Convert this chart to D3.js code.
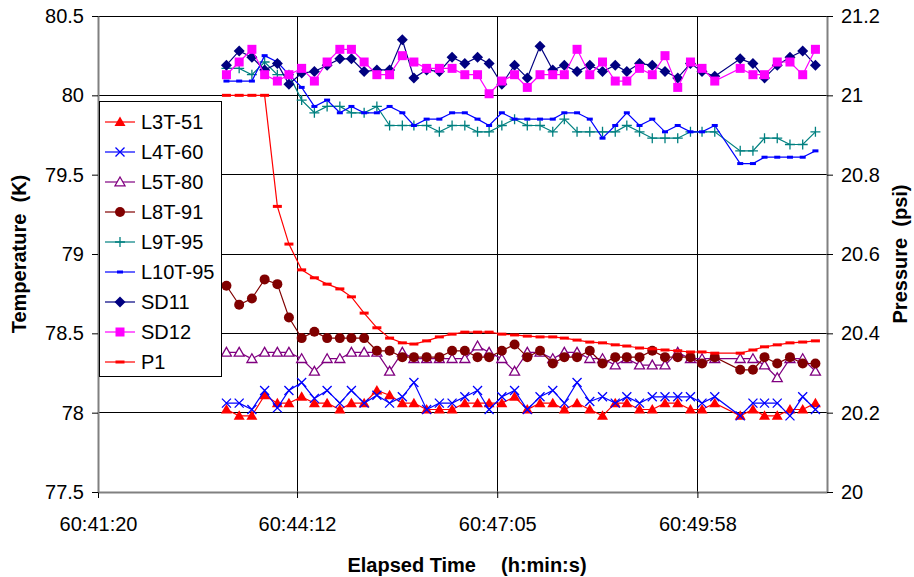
<!DOCTYPE html>
<html>
<head>
<meta charset="utf-8">
<script src="https://cdnjs.cloudflare.com/ajax/libs/d3/7.8.5/d3.min.js"></script>
<style>
  body { margin: 0; background: #fff; }
  text { font-family: Arial, "Liberation Sans", sans-serif; }
</style>
</head>
<body>
<div id="chart"></div>
<script>
// sample times (one sample missing near 60:50:24)
const times = ["60:43:11","60:43:22","60:43:33","60:43:44","60:43:55","60:44:05","60:44:16","60:44:27",
  "60:44:38","60:44:49","60:44:59","60:45:10","60:45:21","60:45:32","60:45:43","60:45:53","60:46:04",
  "60:46:15","60:46:26","60:46:37","60:46:48","60:46:58","60:47:09","60:47:20","60:47:31","60:47:42",
  "60:47:53","60:48:03","60:48:14","60:48:25","60:48:36","60:48:47","60:48:57","60:49:08","60:49:19",
  "60:49:30","60:49:41","60:49:52","60:50:02","60:50:13","60:50:35","60:50:46","60:50:56","60:51:07",
  "60:51:18","60:51:29","60:51:40"];

const xTickLabels = ["60:41:20", "60:44:12", "60:47:05", "60:49:58"];
const tempTicks = [77.5, 78, 78.5, 79, 79.5, 80, 80.5];
const presTicks = [20, 20.2, 20.4, 20.6, 20.8, 21, 21.2];

// temperatures (K)
const L3T51 = [78.02,77.98,77.98,78.11,78.06,78.06,78.10,78.06,78.06,78.02,78.06,78.06,78.14,78.11,78.06,78.06,
  78.02,78.02,78.02,78.06,78.06,78.06,78.06,78.10,78.02,78.06,78.06,78.02,78.06,78.02,77.98,78.06,78.06,78.02,
  78.02,78.06,78.06,78.02,78.02,78.06,77.98,78.02,77.98,77.98,78.02,78.02,78.06];
const L4T60 = [78.06,78.06,78.02,78.14,78.03,78.14,78.19,78.09,78.14,78.06,78.14,78.06,78.11,78.06,78.10,78.19,
  78.02,78.06,78.06,78.10,78.14,78.02,78.10,78.14,78.02,78.10,78.14,78.06,78.19,78.07,78.10,78.06,78.10,78.06,
  78.10,78.10,78.10,78.10,78.06,78.10,77.98,78.06,78.06,78.06,77.98,78.10,78.02];
const L5T80 = [78.38,78.38,78.34,78.38,78.38,78.38,78.34,78.26,78.34,78.34,78.38,78.38,78.38,78.26,78.38,78.34,
  78.34,78.34,78.34,78.34,78.42,78.38,78.34,78.26,78.38,78.38,78.34,78.38,78.38,78.34,78.34,78.30,78.34,78.30,
  78.30,78.30,78.38,78.34,78.34,78.34,78.34,78.34,78.30,78.22,78.34,78.34,78.26];
const L8T91 = [78.80,78.68,78.72,78.84,78.81,78.60,78.47,78.51,78.47,78.47,78.47,78.47,78.39,78.39,78.35,78.35,
  78.35,78.35,78.39,78.39,78.35,78.35,78.39,78.43,78.35,78.39,78.31,78.35,78.35,78.39,78.31,78.35,78.35,78.35,
  78.39,78.35,78.35,78.35,78.31,78.35,78.27,78.27,78.35,78.31,78.35,78.31,78.31];
const L9T95 = [80.17,80.17,80.13,80.21,80.13,80.13,79.97,79.89,79.93,79.93,79.89,79.89,79.93,79.81,79.81,79.81,
  79.81,79.77,79.81,79.81,79.77,79.77,79.81,79.85,79.81,79.81,79.77,79.85,79.77,79.77,79.77,79.77,79.81,79.77,
  79.73,79.73,79.73,79.77,79.77,79.77,79.65,79.65,79.73,79.73,79.69,79.69,79.77];
const L10T95 = [80.09,80.09,80.09,80.25,80.21,80.13,80.05,79.93,79.97,79.89,79.93,79.89,79.89,79.93,79.89,79.81,
  79.85,79.85,79.89,79.89,79.85,79.81,79.89,79.85,79.85,79.85,79.85,79.89,79.89,79.85,79.73,79.81,79.89,79.81,
  79.85,79.77,79.81,79.77,79.77,79.81,79.57,79.57,79.61,79.61,79.61,79.61,79.65];
const SD11 = [80.19,80.28,80.24,80.16,80.20,80.07,80.14,80.15,80.19,80.23,80.23,80.15,80.16,80.16,80.35,80.11,
  80.16,80.15,80.24,80.20,80.24,80.20,80.07,80.19,80.11,80.31,80.16,80.19,80.15,80.19,80.15,80.19,80.15,80.20,
  80.19,80.15,80.11,80.20,80.15,80.12,80.23,80.20,80.11,80.19,80.24,80.28,80.19];
const SD12 = [80.13,80.21,80.29,80.13,80.09,80.13,80.17,80.09,80.21,80.29,80.29,80.21,80.13,80.13,80.25,80.21,
  80.17,80.17,80.17,80.13,80.13,80.01,80.09,80.13,80.05,80.13,80.13,80.13,80.29,80.13,80.21,80.09,80.09,80.17,
  80.13,80.25,80.05,80.21,80.17,80.09,80.17,80.13,80.13,80.21,80.21,80.13,80.29];
// pressure (psi), right axis
const P1 = [21.00,21.00,21.00,21.00,20.72,20.625,20.56,20.54,20.524,20.512,20.492,20.451,20.414,20.388,20.376,
  20.373,20.381,20.391,20.398,20.403,20.403,20.403,20.398,20.396,20.393,20.391,20.391,20.388,20.383,20.378,
  20.376,20.371,20.368,20.363,20.361,20.358,20.356,20.353,20.353,20.350,20.350,20.358,20.366,20.371,20.376,
  20.378,20.381];

const width = 914, height = 577;
const plotL = 98, plotR = 827, plotT = 16, plotB = 492;

const toSec = s => { const [h, m, sec] = s.split(":").map(Number); return h * 3600 + m * 60 + sec; };
const t0 = toSec(xTickLabels[0]);

const x = d3.scaleLinear().domain([t0, t0 + 630]).range([plotL, plotR]);
const yT = d3.scaleLinear().domain([77.5, 80.5]).range([plotB, plotT]);
const yP = d3.scaleLinear().domain([20, 21.2]).range([plotB, plotT]);

const svg = d3.select("#chart").append("svg")
  .attr("width", width).attr("height", height);

// gridlines
svg.append("g").selectAll("line").data(tempTicks).join("line")
  .attr("x1", plotL).attr("x2", plotR)
  .attr("y1", d => yT(d)).attr("y2", d => yT(d))
  .attr("stroke", "#000").attr("stroke-width", 1).attr("shape-rendering", "crispEdges");
svg.append("g").selectAll("line").data(xTickLabels.slice(1)).join("line")
  .attr("x1", d => x(toSec(d))).attr("x2", d => x(toSec(d)))
  .attr("y1", plotT).attr("y2", plotB)
  .attr("stroke", "#000").attr("stroke-width", 1).attr("shape-rendering", "crispEdges");

// axes
const xAxis = d3.axisBottom(x)
  .tickValues(xTickLabels.map(toSec))
  .tickFormat((d, i) => xTickLabels[i])
  .tickSize(6).tickSizeOuter(0).tickPadding(19);
const gx = svg.append("g").attr("transform", `translate(0,${plotB})`).call(xAxis);

const gl = svg.append("g").attr("transform", `translate(${plotL},0)`)
  .call(d3.axisLeft(yT).tickValues(tempTicks).tickFormat(d3.format("")).tickSize(6).tickSizeOuter(0).tickPadding(8));

const gr = svg.append("g").attr("transform", `translate(${plotR},0)`)
  .call(d3.axisRight(yP).tickValues(presTicks).tickFormat(d3.format("")).tickSize(6).tickSizeOuter(0).tickPadding(8));

[gx, gl, gr].forEach(g => {
  g.selectAll("text").attr("font-size", 20).attr("fill", "#000")
    .style("font-family", "Arial, 'Liberation Sans', sans-serif");
  g.selectAll(".domain").attr("stroke", "#808080").attr("stroke-width", 2);
  g.selectAll(".tick line").attr("stroke", "#000").attr("stroke-width", 1);
});

// markers
const markers = {
  triFill: (g, c) => g.append("path").attr("d", "M0,-5.5L5.5,4L-5.5,4Z").attr("fill", c),
  cross: (g, c) => g.append("path").attr("d", "M-4.5,-4.5L4.5,4.5M-4.5,4.5L4.5,-4.5").attr("stroke", c).attr("stroke-width", 1.3).attr("fill", "none"),
  triOpen: (g, c) => g.append("path").attr("d", "M0,-5L5,3.8L-5,3.8Z").attr("stroke", c).attr("stroke-width", 1.3).attr("fill", "#fff"),
  circle: (g, c) => g.append("circle").attr("r", 5).attr("fill", c),
  plus: (g, c) => g.append("path").attr("d", "M-5,0L5,0M0,-5L0,5").attr("stroke", c).attr("stroke-width", 1.3).attr("fill", "none"),
  dashS: (g, c) => g.append("rect").attr("x", -3).attr("y", -1.5).attr("width", 6).attr("height", 3).attr("fill", c),
  diamond: (g, c) => g.append("path").attr("d", "M0,-5.5L5.5,0L0,5.5L-5.5,0Z").attr("fill", c),
  square: (g, c) => g.append("rect").attr("x", -4.5).attr("y", -4.5).attr("width", 9).attr("height", 9).attr("fill", c),
  dashL: (g, c) => g.append("rect").attr("x", -4.5).attr("y", -1.5).attr("width", 9).attr("height", 3).attr("fill", c)
};

const series = [
  { name: "L3T-51", values: L3T51, color: "#ff0000", marker: "triFill", y: yT },
  { name: "L4T-60", values: L4T60, color: "#0000ff", marker: "cross", y: yT },
  { name: "L5T-80", values: L5T80, color: "#800080", marker: "triOpen", y: yT },
  { name: "L8T-91", values: L8T91, color: "#800000", marker: "circle", y: yT },
  { name: "L9T-95", values: L9T95, color: "#008080", marker: "plus", y: yT },
  { name: "L10T-95", values: L10T95, color: "#0000ff", marker: "dashS", y: yT },
  { name: "SD11", values: SD11, color: "#000080", marker: "diamond", y: yT },
  { name: "SD12", values: SD12, color: "#ff00ff", marker: "square", y: yT },
  { name: "P1", values: P1, color: "#ff0000", marker: "dashL", y: yP }
];

series.forEach(s => {
  const pts = times.map((t, i) => [x(toSec(t)), s.y(s.values[i])]);
  const g = svg.append("g");
  g.append("path").attr("d", d3.line()(pts))
    .attr("fill", "none").attr("stroke", s.color).attr("stroke-width", 1.2);
  pts.forEach(p => {
    const m = g.append("g").attr("transform", `translate(${p[0]},${p[1]})`);
    markers[s.marker](m, s.color);
  });
});

// legend
const lg = svg.append("g");
lg.append("rect").attr("x", 99.5).attr("y", 101.5).attr("width", 122).attr("height", 275)
  .attr("fill", "#fff").attr("stroke", "#000").attr("stroke-width", 1);
series.forEach((s, i) => {
  const cy = 122 + i * 30;
  lg.append("line").attr("x1", 105).attr("x2", 135).attr("y1", cy).attr("y2", cy)
    .attr("stroke", s.color).attr("stroke-width", 1.2);
  markers[s.marker](lg.append("g").attr("transform", `translate(120,${cy})`), s.color);
  lg.append("text").attr("x", 141).attr("y", cy + 7).attr("font-size", 20).text(s.name);
});

// axis titles
svg.append("text").attr("transform", "translate(26,254) rotate(-90)")
  .attr("text-anchor", "middle").attr("font-size", 20).attr("font-weight", "bold")
  .style("white-space", "pre").text("Temperature  (K)");
svg.append("text").attr("transform", "translate(907,254) rotate(-90)")
  .attr("text-anchor", "middle").attr("font-size", 20).attr("font-weight", "bold")
  .style("white-space", "pre").text("Pressure  (psi)");
svg.append("text").attr("x", 476).attr("y", 572).attr("text-anchor", "end")
  .attr("font-size", 20).attr("font-weight", "bold").text("Elapsed Time");
svg.append("text").attr("x", 501).attr("y", 572)
  .attr("font-size", 20).attr("font-weight", "bold").text("(h:min:s)");
</script>
</body>
</html>
